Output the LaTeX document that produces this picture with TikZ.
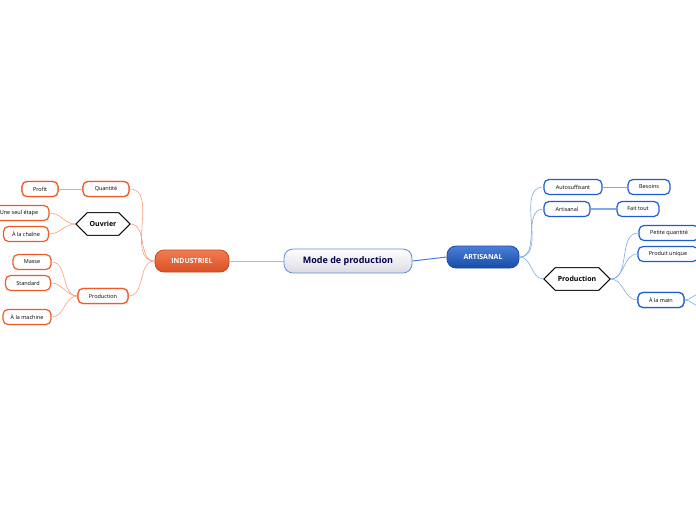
\documentclass[tikz,border=0pt]{standalone}
\usepackage{fontspec}
\setmainfont{Open Sans}
\usetikzlibrary{shapes.misc}
\definecolor{orb}{HTML}{F05A28}
\definecolor{orl}{HTML}{F8A080}
\definecolor{blb}{HTML}{1D5FD0}
\definecolor{bll}{HTML}{7FAAEE}
\tikzset{
 leafo/.style={draw=orb,line width=1.2pt,rounded corners=5pt,fill=white,minimum height=15pt,inner sep=1pt,font=\fontsize{5.5}{6}\selectfont},
 leafb/.style={draw=blb,line width=1.2pt,rounded corners=5pt,fill=white,minimum height=15pt,inner sep=1pt,font=\fontsize{5.5}{6}\selectfont},
 hexo/.style={chamfered rectangle,chamfered rectangle xsep=7pt,chamfered rectangle ysep=7.5pt,draw=black,line width=0.8pt,fill=white,minimum height=15pt,inner sep=1pt,font=\bfseries\fontsize{7}{8}\selectfont},
 co/.style={draw=orl,line width=0.6pt},
 cb/.style={draw=bll,line width=0.6pt},
}
\begin{document}
\begin{tikzpicture}[x=1pt,y=-1pt]
\useasboundingbox (0,0) rectangle (696,520);
\fill[white] (0,0) rectangle (696,520);
% main nodes
\node[draw=blb!70,line width=0.8pt,rounded corners=9pt,top color=white,bottom color=blue!15!gray!25,minimum width=128pt,minimum height=24pt,font=\bfseries\fontsize{9}{10}\selectfont,text=blue!30!black] (m) at (348,261) {Mode de production};
\node[draw=orb!80!black,line width=0.8pt,rounded corners=9pt,top color=orb!80,bottom color=orb!90!black,minimum width=74pt,minimum height=22pt,font=\bfseries\fontsize{7}{8}\selectfont,text=white] (ind) at (192,261) {INDUSTRIEL};
\node[draw=blb!80!black,line width=0.8pt,rounded corners=9pt,top color=blb!80,bottom color=blb!80!black,minimum width=72pt,minimum height=22pt,font=\bfseries\fontsize{7}{8}\selectfont,text=white] (art) at (483,257) {ARTISANAL};
% industriel side
\node[leafo,minimum width=46pt] (q) at (106,189) {Quantité};
\node[leafo,minimum width=36pt] (pr) at (40,189) {Profit};
\node[hexo,minimum width=54pt] (ou) at (103,224) {Ouvrier};
\node[leafo,minimum width=60pt] (us) at (19,213) {Une seul étape};
\node[leafo,minimum width=45pt] (ch) at (26,234) {À la chaîne};
\node[leafo,minimum width=50pt] (pi) at (103,296) {Production};
\node[leafo,minimum width=38pt] (ma) at (32,262) {Masse};
\node[leafo,minimum width=45pt] (st) at (28,283) {Standard};
\node[leafo,minimum width=48pt] (am) at (27,317) {À la machine};
% artisanal side
\node[leafb,minimum width=58pt] (au) at (573,187) {Autosuffisant};
\node[leafb,minimum width=42pt] (be) at (649,187) {Besoins};
\node[leafb,minimum width=46pt] (ar) at (567,209) {Artisanal};
\node[leafb,minimum width=42pt] (ft) at (638,209) {Fait tout};
\node[hexo,minimum width=66pt] (pa) at (577,279) {Production};
\node[leafb,minimum width=60pt] (pq) at (669,233) {Petite quantité};
\node[leafb,minimum width=60pt] (pu) at (668,254) {Produit unique};
\node[leafb,minimum width=46pt] (mn) at (661,300) {À la main};
\coordinate (o1) at (700,294);
\coordinate (o2) at (700,306);
% connectors
\draw[co,line width=1pt] (m.west) -- (ind.east);
\draw[cb,draw=blb!80,line width=1pt] (m.east) -- (art.west);
\begin{scope}[on background layer/.style={}]
\draw[co] (ind.west) to[out=180,in=0] (q.east);
\draw[co] (ind.west) to[out=180,in=0] (ou.east);
\draw[co] (ind.west) to[out=180,in=0] (pi.east);
\draw[co] (q.west) -- (pr.east);
\draw[co] (ou.west) to[out=180,in=0] (us.east);
\draw[co] (ou.west) to[out=180,in=0] (ch.east);
\draw[co] (pi.west) to[out=180,in=0] (ma.east);
\draw[co] (pi.west) to[out=180,in=0] (st.east);
\draw[co] (pi.west) to[out=180,in=0] (am.east);
\draw[cb] (art.east) to[out=0,in=180] (au.west);
\draw[cb] (art.east) to[out=0,in=180] (ar.west);
\draw[cb] (art.east) to[out=0,in=180] (pa.west);
\draw[cb] (au.east) -- (be.west);
\draw[cb,line width=1.2pt] (ar.east) -- (ft.west);
\draw[cb] (pa.east) to[out=0,in=180] (pq.west);
\draw[cb] (pa.east) to[out=0,in=180] (pu.west);
\draw[cb] (pa.east) to[out=0,in=180] (mn.west);
\draw[cb] (mn.east) to[out=0,in=180] (o1);
\draw[cb] (mn.east) to[out=0,in=180] (o2);
\end{scope}
% redraw nodes over connectors
\node[leafo,minimum width=46pt] at (q) {Quantité};
\node[leafo,minimum width=36pt] at (pr) {Profit};
\node[hexo,minimum width=54pt] at (ou) {Ouvrier};
\node[leafo,minimum width=50pt] at (pi) {Production};
\node[hexo,minimum width=66pt] at (pa) {Production};
\node[leafb,minimum width=46pt] at (mn) {À la main};
\end{tikzpicture}
\end{document}
